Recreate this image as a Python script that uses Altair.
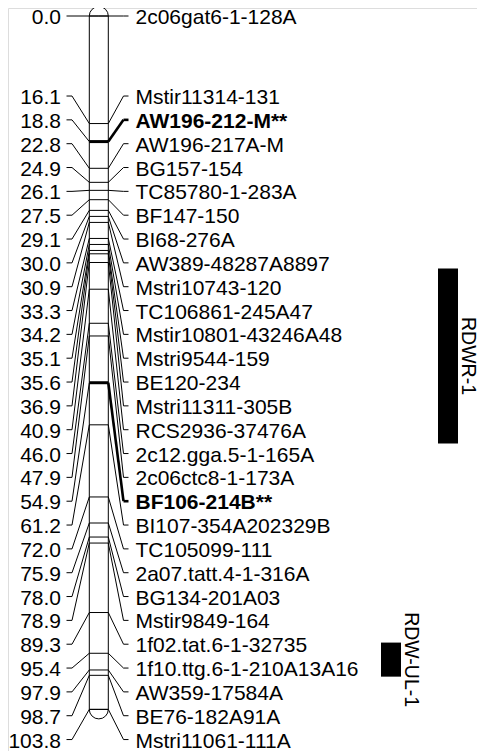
import altair as alt
import pandas as pd

# ---------------- data ----------------
positions = [0.0, 16.1, 18.8, 22.8, 24.9, 26.1, 27.5, 29.1, 30.0, 30.9, 33.3, 34.2,
             35.1, 35.6, 36.9, 40.9, 46.0, 47.9, 54.9, 61.2, 72.0, 75.9, 78.0, 78.9,
             89.3, 95.4, 97.9, 98.7, 103.8]
markers = ["2c06gat6-1-128A", "Mstir11314-131", "AW196-212-M**", "AW196-217A-M",
           "BG157-154", "TC85780-1-283A", "BF147-150", "BI68-276A",
           "AW389-48287A8897", "Mstri10743-120", "TC106861-245A47",
           "Mstir10801-43246A48", "Mstri9544-159", "BE120-234", "Mstri11311-305B",
           "RCS2936-37476A", "2c12.gga.5-1-165A", "2c06ctc8-1-173A", "BF106-214B**",
           "BI107-354A202329B", "TC105099-111", "2a07.tatt.4-1-316A", "BG134-201A03",
           "Mstir9849-164", "1f02.tat.6-1-32735", "1f10.ttg.6-1-210A13A16",
           "AW359-17584A", "BE76-182A91A", "Mstri11061-111A"]
significant = ["AW196-212-M**", "BF106-214B**"]

qtl_names = ["RDWR-1", "RDW-UL-1"]
qtl_start = [37.8, 93.8]
qtl_end = [64.0, 98.9]

# ---------------- layout ----------------
MARGIN = 8
W, H = 469, 743
PX_PER_CM = 6.68
TOP_Y = 16.0                    # page y of 0 cM
D0 = (MARGIN - TOP_Y) / PX_PER_CM
D1 = D0 + H / PX_PER_CM
LABEL_FIRST = 11.98             # label rows (cM units)
LABEL_STEP = 3.568

def px(x):
    return x - MARGIN

CHR_L, CHR_R = 89.3, 108.3
CHR_C = (CHR_L + CHR_R) / 2
FONT = "Liberation Sans"
FS = 21
DY = 2

label_cm = [positions[0]] + [LABEL_FIRST + i * LABEL_STEP for i in range(len(positions) - 1)]
df = pd.DataFrame({
    "pos": positions,
    "name": markers,
    "label": label_cm,
    "bold": [m in significant for m in markers],
    "postxt": [f"{p:.1f}" for p in positions],
})
chrom = pd.DataFrame({"start": [positions[0]], "end": [positions[-1]]})
qtl = pd.DataFrame({"name": qtl_names, "start": qtl_start, "end": qtl_end})
qtl["mid"] = (qtl["start"] + qtl["end"]) / 2

ysc = alt.Scale(domain=[D0, D1], reverse=True, nice=False, zero=False)
Y = lambda f: alt.Y(f"{f}:Q", scale=ysc, axis=None)
Y2 = lambda f: alt.Y2(f"{f}:Q")

base = alt.Chart(df)
bw = alt.condition("datum.bold", alt.value(2.6), alt.value(1))

left_stub = base.mark_rule(color="black", strokeWidth=1).encode(
    x=alt.value(px(66.5)), x2=alt.value(px(72)), y=Y("label"))
left_diag = base.mark_rule(color="black", strokeWidth=1).encode(
    x=alt.value(px(72)), x2=alt.value(px(CHR_L)), y=Y("label"), y2=Y2("pos"))
right_diag = base.mark_rule(color="black").encode(
    x=alt.value(px(CHR_R)), x2=alt.value(px(123.5)), y=Y("pos"), y2=Y2("label"),
    strokeWidth=bw)
right_stub = base.mark_rule(color="black").encode(
    x=alt.value(px(123.5)), x2=alt.value(px(128.5)), y=Y("label"), strokeWidth=bw)

cap_top = alt.Chart(chrom).mark_arc(
    fill="white", stroke="black", strokeWidth=1, radius=9.5,
    theta=4.71238898, theta2=7.85398163).encode(
    x=alt.value(px(CHR_C)), y=Y("start"))
cap_bot = alt.Chart(chrom).mark_arc(
    fill="white", stroke="black", strokeWidth=1, radius=9.5,
    theta=1.57079633, theta2=4.71238898).encode(
    x=alt.value(px(CHR_C)), y=Y("end"))
side_l = alt.Chart(chrom).mark_rule(color="black", strokeWidth=1).encode(
    x=alt.value(px(CHR_L)), y=Y("start"), y2=Y2("end"))
side_r = alt.Chart(chrom).mark_rule(color="black", strokeWidth=1).encode(
    x=alt.value(px(CHR_R)), y=Y("start"), y2=Y2("end"))
ticks = base.mark_rule(color="black").encode(
    x=alt.value(px(CHR_L)), x2=alt.value(px(CHR_R)), y=Y("pos"),
    strokeWidth=alt.condition("datum.bold", alt.value(3), alt.value(1)))

left_txt = base.mark_text(align="right", baseline="middle", font=FONT, fontSize=FS,
                          dy=DY, color="black").encode(
    x=alt.value(px(61)), y=Y("label"), text="postxt:N")
right_txt = base.transform_filter("!datum.bold").mark_text(
    align="left", baseline="middle", font=FONT, fontSize=FS, dy=DY, color="black").encode(
    x=alt.value(px(135.5)), y=Y("label"), text="name:N")
right_bold = base.transform_filter("datum.bold").mark_text(
    align="left", baseline="middle", font=FONT, fontSize=FS, dy=DY, fontWeight="bold",
    color="black").encode(
    x=alt.value(px(135.5)), y=Y("label"), text="name:N")

qbase = alt.Chart(qtl)
qrect = qbase.transform_filter(alt.datum.name == "RDWR-1").mark_rect(color="black").encode(
    x=alt.value(px(438)), x2=alt.value(px(458)), y=Y("start"), y2=Y2("end"))
qrect2 = qbase.transform_filter(alt.datum.name == "RDW-UL-1").mark_rect(color="black").encode(
    x=alt.value(px(381)), x2=alt.value(px(401)), y=Y("start"), y2=Y2("end"))
qtxt = qbase.transform_filter(alt.datum.name == "RDWR-1").mark_text(
    angle=90, align="center", baseline="middle", font="Liberation Sans", fontSize=19.5,
    color="black").encode(x=alt.value(px(468)), y=Y("mid"), text="name:N")
qtxt2 = qbase.transform_filter(alt.datum.name == "RDW-UL-1").mark_text(
    angle=90, align="center", baseline="middle", font="Liberation Sans", fontSize=19.5,
    color="black").encode(x=alt.value(px(411)), y=Y("mid"), text="name:N")

chart = alt.layer(
    left_stub, left_diag, right_diag, right_stub,
    cap_top, cap_bot, side_l, side_r, ticks,
    left_txt, right_txt, right_bold,
    qrect, qrect2, qtxt, qtxt2,
).properties(
    width=W, height=H,
    autosize=alt.AutoSizeParams(type="none"),
    padding={"left": 0, "top": 0, "right": 0, "bottom": 0},
).configure_view(stroke=None).configure(background="white")

chart.save("out.html", embed_options={"renderer": "svg", "actions": False})
